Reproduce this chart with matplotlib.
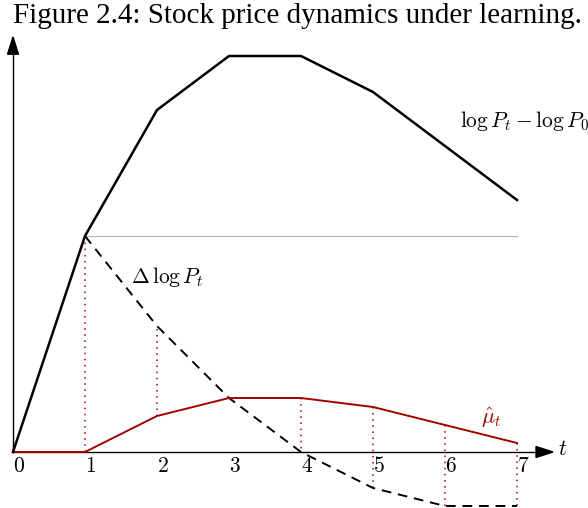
import matplotlib
matplotlib.use("Agg")
import matplotlib.pyplot as plt
from matplotlib.patches import Polygon

plt.rcParams["mathtext.fontset"] = "cm"

# periods and the three series (log price, its change, learned drift)
periods = [0, 1, 2, 3, 4, 5, 6, 7]
log_price = [0, 12, 19, 22, 22, 20, 17, 14]
delta_periods = [1, 2, 3, 4, 5, 6, 7]
delta_log_price = [12, 7, 3, 0, -2, -3, -3]
mu_hat = [0, 0, 2, 3, 3, 2.5, 1.5, 0.5]
tick_labels = ["0", "1", "2", "3", "4", "5", "6", "7"]

RED = "#a00000"

fig = plt.figure(figsize=(5.88, 5.08), dpi=100)
ax = fig.add_axes([0, 0, 1, 1])
ax.set_xlim(-13 / 72, 575 / 72)
ax.set_ylim(-56 / 18, 452 / 18)
ax.axis("off")

fig.text(13 / 588, 1 - 23 / 508, "Figure 2.4: Stock price dynamics under learning.",
         family="Liberation Serif", fontsize=21, va="baseline", ha="left")

# axes with arrow heads
ax.plot([0, 7.3], [0, 0], color="black", lw=1.0, zorder=3)
ax.plot([0, 0], [0, 22.2], color="black", lw=1.0, zorder=3)
ax.add_patch(Polygon([[7.5, 0], [7.264, 0.306], [7.264, -0.306]],
                     closed=True, color="black", zorder=3))
ax.add_patch(Polygon([[0, 23.06], [-0.076, 22.1], [0.076, 22.1]],
                     closed=True, color="black", zorder=3))

# reference level of log P_1
ax.plot([delta_periods[0], delta_periods[-1]], [log_price[1], log_price[1]],
        color="#b4b4b4", lw=0.8, zorder=1)

# dotted gaps between the price change and the drift estimate
for t, d in zip(delta_periods, delta_log_price):
    m = mu_hat[periods.index(t)]
    if d != m:
        ax.plot([t, t], [m, d], color="#b00000", lw=1.1, ls=(0, (1, 3)), zorder=2)

ax.plot(delta_periods, delta_log_price, color="black", lw=1.4,
        dashes=(5, 3.5), zorder=4)
ax.plot(periods, mu_hat, color=RED, lw=1.4, zorder=5)
ax.plot(periods, log_price, color="black", lw=1.8, zorder=6)

for t, lab in zip(periods, tick_labels):
    ax.text(t, -0.25, "$%s$" % lab, fontsize=15.5, ha="left", va="top")

ax.text(7.57, 0.17, "$t$", fontsize=15.5, ha="left", va="center")
ax.text(6.208, 18.06, r"$\log P_t - \log P_0$", fontsize=15.5,
        ha="left", va="baseline")
ax.text(1.639, 9.39, r"$\Delta\,\log P_t$", fontsize=15.5,
        ha="left", va="baseline")
ax.text(6.5, 1.56, r"$\hat{\mu}_t$", fontsize=15.5, color=RED,
        ha="left", va="baseline")

fig.savefig("out.png", dpi=100)
